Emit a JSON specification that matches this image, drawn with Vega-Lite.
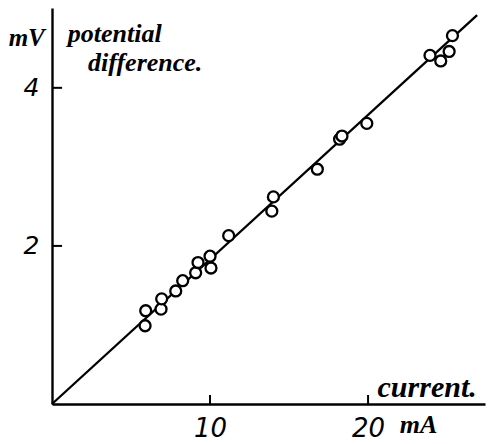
{
  "$schema": "https://vega.github.io/schema/vega-lite/v6.json",
  "width": 433,
  "height": 396,
  "autosize": {"type": "none"},
  "padding": {"left": 52, "top": 8, "right": 8, "bottom": 40},
  "background": "white",
  "config": {"view": {"stroke": null}},
  "datasets": {
    "points": [
      {"current": 5.89, "pd": 0.99},
      {"current": 5.93, "pd": 1.18},
      {"current": 6.90, "pd": 1.20},
      {"current": 6.94, "pd": 1.33},
      {"current": 7.83, "pd": 1.43},
      {"current": 8.27, "pd": 1.56},
      {"current": 9.09, "pd": 1.66},
      {"current": 9.24, "pd": 1.79},
      {"current": 10.0, "pd": 1.87},
      {"current": 10.06, "pd": 1.72},
      {"current": 11.18, "pd": 2.13},
      {"current": 13.91, "pd": 2.44},
      {"current": 14.01, "pd": 2.62},
      {"current": 16.79, "pd": 2.97},
      {"current": 18.2, "pd": 3.35},
      {"current": 18.35, "pd": 3.39},
      {"current": 19.92, "pd": 3.55},
      {"current": 23.92, "pd": 4.41},
      {"current": 24.60, "pd": 4.34},
      {"current": 25.13, "pd": 4.46},
      {"current": 25.34, "pd": 4.66}
    ],
    "fit": [
      {"current": 0, "pd": 0},
      {"current": 26.9, "pd": 4.92}
    ]
  },
  "layer": [
    {
      "data": {"name": "fit"},
      "mark": {"type": "line", "color": "black", "strokeWidth": 2.3},
      "encoding": {
        "x": {
          "field": "current", "type": "quantitative",
          "scale": {"domain": [0, 27.4], "nice": false, "zero": false},
          "axis": {
            "title": null, "values": [10, 20], "grid": false, "format": "d",
            "domainColor": "black", "domainWidth": 2.4, "ticks": false,
            "labelPadding": 11, "labelFont": "DejaVu Sans", "labelFontStyle": "italic",
            "labelFontSize": 26, "labelColor": "black", "labelFlush": false
          }
        },
        "y": {
          "field": "pd", "type": "quantitative",
          "scale": {"domain": [0, 5.01], "nice": false, "zero": false},
          "axis": {
            "title": null, "values": [2, 4], "grid": false, "format": "d",
            "domainColor": "black", "domainWidth": 2.4, "ticks": false,
            "labelPadding": 13, "labelFont": "DejaVu Sans", "labelFontStyle": "italic",
            "labelFontSize": 25, "labelColor": "black", "labelFlush": false
          }
        }
      }
    },
    {
      "data": {"values": [{"v": 10}, {"v": 20}]},
      "mark": {"type": "tick", "orient": "vertical", "color": "black", "size": 9, "thickness": 2, "opacity": 1},
      "encoding": {"x": {"field": "v", "type": "quantitative"}, "y": {"datum": 0.057, "type": "quantitative"}}
    },
    {
      "data": {"values": [{"v": 2}, {"v": 4}]},
      "mark": {"type": "tick", "orient": "horizontal", "color": "black", "size": 10, "thickness": 2, "opacity": 1},
      "encoding": {"y": {"field": "v", "type": "quantitative"}, "x": {"datum": 0.32, "type": "quantitative"}}
    },
    {
      "data": {"name": "points"},
      "mark": {"type": "point", "shape": "circle", "filled": false, "fill": "white", "fillOpacity": 1, "stroke": "black", "strokeWidth": 2.3, "size": 120, "opacity": 1},
      "encoding": {
        "x": {"field": "current", "type": "quantitative"},
        "y": {"field": "pd", "type": "quantitative"}
      }
    },
    {
      "data": {"values": [{}]},
      "mark": {"type": "text", "text": "mV", "font": "Liberation Serif", "fontStyle": "italic", "fontWeight": "bold", "fontSize": 25, "align": "center", "baseline": "alphabetic", "color": "black"},
      "encoding": {"x": {"datum": -1.6, "type": "quantitative"}, "y": {"datum": 4.53, "type": "quantitative"}}
    },
    {
      "data": {"values": [{}]},
      "mark": {"type": "text", "text": "potential", "font": "Liberation Serif", "fontStyle": "italic", "fontWeight": "bold", "fontSize": 26, "align": "left", "baseline": "alphabetic", "color": "black"},
      "encoding": {"x": {"datum": 1.0, "type": "quantitative"}, "y": {"datum": 4.58, "type": "quantitative"}}
    },
    {
      "data": {"values": [{}]},
      "mark": {"type": "text", "text": "difference.", "font": "Liberation Serif", "fontStyle": "italic", "fontWeight": "bold", "fontSize": 26, "align": "left", "baseline": "alphabetic", "color": "black"},
      "encoding": {"x": {"datum": 2.28, "type": "quantitative"}, "y": {"datum": 4.21, "type": "quantitative"}}
    },
    {
      "data": {"values": [{}]},
      "mark": {"type": "text", "text": "current.", "font": "Liberation Serif", "fontStyle": "italic", "fontWeight": "bold", "fontSize": 30, "align": "left", "baseline": "alphabetic", "color": "black"},
      "encoding": {"x": {"datum": 20.6, "type": "quantitative"}, "y": {"datum": 0.09, "type": "quantitative"}}
    },
    {
      "data": {"values": [{}]},
      "mark": {"type": "text", "text": "mA", "font": "Liberation Serif", "fontStyle": "italic", "fontWeight": "bold", "fontSize": 26, "align": "left", "baseline": "alphabetic", "color": "black"},
      "encoding": {"x": {"datum": 22.0, "type": "quantitative"}, "y": {"datum": -0.37, "type": "quantitative"}}
    }
  ]
}
